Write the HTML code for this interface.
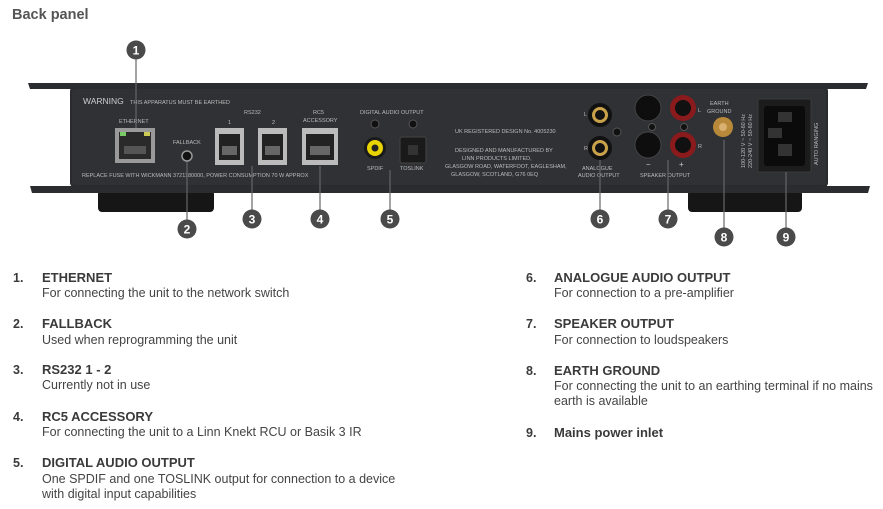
<!DOCTYPE html>
<html><head><meta charset="utf-8"><style>
html,body{margin:0;padding:0;background:#fff;}
svg{display:block;font-family:"Liberation Sans",Arial,sans-serif;}
.t{font-weight:bold;font-size:13px;fill:#3a3a3a;}
.d{font-size:12.5px;fill:#444;}
.n{font-weight:bold;font-size:12.5px;fill:#3a3a3a;}
.p{font-size:5.5px;fill:#bbb;}
.c circle{fill:#4a4a4a;}
.c text{fill:#fff;font-weight:bold;font-size:12px;text-anchor:middle;}
</style></head><body>
<svg width="883" height="509" viewBox="0 0 883 509">
<text x="12" y="19" font-size="14.5" font-weight="bold" fill="#555">Back panel</text>
<!-- feet -->
<rect x="98" y="190" width="116" height="22" rx="4" fill="#161616"/>
<rect x="688" y="190" width="114" height="22" rx="4" fill="#161616"/>
<!-- plates -->
<path d="M28 83 L868 83 L866 89 L30 89 Z" fill="#2b2c30"/>
<path d="M30 186 L870 186 L868 193 L32 193 Z" fill="#2b2c30"/>
<!-- body -->
<rect x="70" y="87" width="758" height="100" rx="4" fill="#2a2b2f"/>
<rect x="72" y="89" width="754" height="96" rx="3" fill="#303135"/>
<!-- panel text -->
<text x="83" y="104" font-size="8.5" fill="#ccc">WARNING</text>
<text x="130" y="104" class="p">THIS APPARATUS MUST BE EARTHED</text>
<text x="119" y="123" class="p">ETHERNET</text>
<text x="173" y="144" class="p">FALLBACK</text>
<text x="244" y="114" class="p">RS232</text>
<text x="228" y="124" class="p">1</text><text x="272" y="124" class="p">2</text>
<text x="313" y="114" class="p">RC5</text><text x="303" y="122" class="p">ACCESSORY</text>
<text x="360" y="114" class="p">DIGITAL AUDIO OUTPUT</text>
<text x="367" y="170" class="p">SPDIF</text><text x="400" y="170" class="p">TOSLINK</text>
<text x="82" y="177" class="p">REPLACE FUSE WITH WICKMANN 3721180000, POWER CONSUMPTION 70 W APPROX</text>
<text x="455" y="133" class="p">UK REGISTERED DESIGN No. 4005230</text>
<text x="455" y="152" class="p">DESIGNED AND MANUFACTURED BY</text>
<text x="462" y="160" class="p">LINN PRODUCTS LIMITED,</text>
<text x="445" y="168" class="p">GLASGOW ROAD, WATERFOOT, EAGLESHAM,</text>
<text x="451" y="176" class="p">GLASGOW, SCOTLAND, G76 0EQ</text>
<text x="584" y="116" class="p">L</text><text x="584" y="150" class="p">R</text>
<text x="582" y="170" class="p">ANALOGUE</text><text x="578" y="177" class="p">AUDIO OUTPUT</text>
<text x="640" y="177" class="p">SPEAKER OUTPUT</text>
<text x="646" y="167" font-size="8" fill="#ccc">−</text><text x="679" y="167" font-size="8" fill="#ccc">+</text>
<text x="698" y="112" class="p">L</text><text x="698" y="148" class="p">R</text>
<text x="710" y="105" class="p">EARTH</text><text x="707" y="113" class="p">GROUND</text>
<text x="818" y="165" class="p" transform="rotate(-90 818 165)">AUTO RANGING</text>
<text x="745" y="168" class="p" transform="rotate(-90 745 168)">100-120 V ~ 50-60 Hz</text>
<text x="752" y="168" class="p" transform="rotate(-90 752 168)">220-240 V ~ 50-60 Hz</text>
<!-- ethernet -->
<rect x="115" y="128" width="40" height="35" fill="#9a9a9a"/>
<rect x="119" y="132" width="32" height="27" fill="#2a2a2a"/>
<rect x="120" y="132" width="6" height="4" fill="#7c6"/><rect x="144" y="132" width="6" height="4" fill="#cc5"/>
<rect x="124" y="146" width="22" height="8" fill="#555"/>
<!-- fallback -->
<circle cx="187" cy="156" r="5" fill="#111" stroke="#999" stroke-width="1.5"/>
<!-- RS232 / RC5 -->
<g fill="#bbb"><rect x="215" y="128" width="29" height="37"/><rect x="258" y="128" width="29" height="37"/><rect x="302" y="128" width="36" height="37"/></g>
<g fill="#222"><rect x="219" y="134" width="21" height="26"/><rect x="262" y="134" width="21" height="26"/><rect x="306" y="134" width="28" height="26"/></g>
<g fill="#666"><rect x="222" y="146" width="15" height="9"/><rect x="265" y="146" width="15" height="9"/><rect x="310" y="146" width="20" height="9"/></g>
<!-- digital -->
<circle cx="375" cy="124" r="4" fill="#111" stroke="#555"/><circle cx="413" cy="124" r="4" fill="#111" stroke="#555"/>
<circle cx="375" cy="148" r="11" fill="#1a1a1a"/><circle cx="375" cy="148" r="8" fill="#e8d400"/><circle cx="375" cy="148" r="3.5" fill="#222"/>
<rect x="400" y="137" width="26" height="26" rx="2" fill="#1a1a1a" stroke="#444"/><rect x="408" y="145" width="10" height="10" fill="#333"/>
<!-- analogue -->
<circle cx="600" cy="115" r="12" fill="#111"/><circle cx="600" cy="115" r="8" fill="#c9a24b"/><circle cx="600" cy="115" r="5" fill="#111"/>
<circle cx="600" cy="148" r="12" fill="#111"/><circle cx="600" cy="148" r="8" fill="#c9a24b"/><circle cx="600" cy="148" r="5" fill="#111"/>
<circle cx="617" cy="132" r="4" fill="#111" stroke="#555"/>
<!-- speaker -->
<circle cx="648" cy="108" r="13" fill="#0e0e0e" stroke="#444"/><circle cx="648" cy="145" r="13" fill="#0e0e0e" stroke="#444"/>
<circle cx="683" cy="108" r="13" fill="#8a1a1c"/><circle cx="683" cy="108" r="8" fill="#111"/>
<circle cx="683" cy="145" r="13" fill="#8a1a1c"/><circle cx="683" cy="145" r="8" fill="#111"/>
<circle cx="652" cy="127" r="3.5" fill="#111" stroke="#555"/><circle cx="684" cy="127" r="3.5" fill="#111" stroke="#555"/>
<!-- earth -->
<circle cx="723" cy="127" r="10" fill="#b8893a"/><circle cx="723" cy="127" r="4" fill="#d9b070"/>
<!-- IEC -->
<rect x="758" y="99" width="53" height="73" fill="#1c1c1c" stroke="#3a3a3a"/>
<rect x="764" y="106" width="41" height="60" rx="3" fill="#0b0b0b"/>
<rect x="778" y="112" width="14" height="10" fill="#333"/><rect x="768" y="128" width="14" height="10" fill="#333"/><rect x="778" y="144" width="14" height="12" fill="#333"/>
<!-- leader lines -->
<g stroke="#666" stroke-width="1.2">
<line x1="136" y1="58" x2="136" y2="128"/><line x1="187" y1="162" x2="187" y2="220"/>
<line x1="252" y1="166" x2="252" y2="210"/><line x1="320" y1="166" x2="320" y2="210"/>
<line x1="390" y1="170" x2="390" y2="210"/><line x1="600" y1="160" x2="600" y2="210"/>
<line x1="668" y1="160" x2="668" y2="210"/><line x1="724" y1="140" x2="724" y2="228"/>
<line x1="786" y1="172" x2="786" y2="228"/>
</g>
<g class="c">
<circle cx="136" cy="50" r="9.5"/><text x="136" y="54.5">1</text>
<circle cx="187" cy="229" r="9.5"/><text x="187" y="233.5">2</text>
<circle cx="252" cy="219" r="9.5"/><text x="252" y="223.5">3</text>
<circle cx="320" cy="219" r="9.5"/><text x="320" y="223.5">4</text>
<circle cx="390" cy="219" r="9.5"/><text x="390" y="223.5">5</text>
<circle cx="600" cy="219" r="9.5"/><text x="600" y="223.5">6</text>
<circle cx="668" cy="219" r="9.5"/><text x="668" y="223.5">7</text>
<circle cx="724" cy="237" r="9.5"/><text x="724" y="241.5">8</text>
<circle cx="786" cy="237" r="9.5"/><text x="786" y="241.5">9</text>
</g>
<!-- list left -->
<text class="n" x="13" y="282">1.</text><text class="t" x="42" y="282">ETHERNET</text><text class="d" x="42" y="297">For connecting the unit to the network switch</text>
<text class="n" x="13" y="328">2.</text><text class="t" x="42" y="328">FALLBACK</text><text class="d" x="42" y="344">Used when reprogramming the unit</text>
<text class="n" x="13" y="374">3.</text><text class="t" x="42" y="374">RS232 1 - 2</text><text class="d" x="42" y="389">Currently not in use</text>
<text class="n" x="13" y="421">4.</text><text class="t" x="42" y="421">RC5 ACCESSORY</text><text class="d" x="42" y="436">For connecting the unit to a Linn Knekt RCU or Basik 3 IR</text>
<text class="n" x="13" y="467">5.</text><text class="t" x="42" y="467">DIGITAL AUDIO OUTPUT</text><text class="d" x="42" y="483">One SPDIF and one TOSLINK output for connection to a device</text><text class="d" x="42" y="498">with digital input capabilities</text>
<!-- list right -->
<text class="n" x="526" y="282">6.</text><text class="t" x="554" y="282">ANALOGUE AUDIO OUTPUT</text><text class="d" x="554" y="297">For connection to a pre-amplifier</text>
<text class="n" x="526" y="328">7.</text><text class="t" x="554" y="328">SPEAKER OUTPUT</text><text class="d" x="554" y="344">For connection to loudspeakers</text>
<text class="n" x="526" y="375">8.</text><text class="t" x="554" y="375">EARTH GROUND</text><text class="d" x="554" y="390">For connecting the unit to an earthing terminal if no mains</text><text class="d" x="554" y="405">earth is available</text>
<text class="n" x="526" y="437">9.</text><text class="t" x="554" y="437">Mains power inlet</text>
</svg>
</body></html>
